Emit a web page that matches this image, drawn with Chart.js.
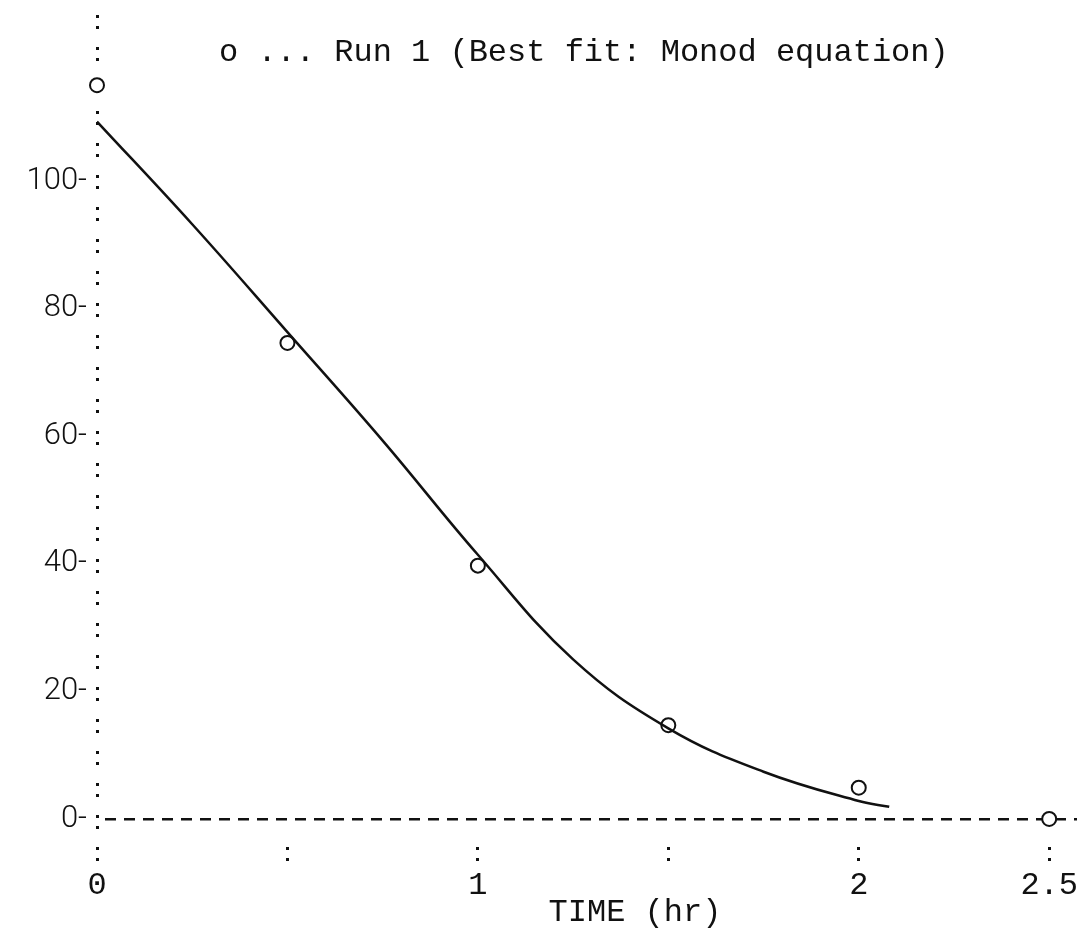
<!DOCTYPE html>
<html>
<head>
<meta charset="utf-8">
<script src="https://cdn.jsdelivr.net/npm/chart.js@4.4.1/dist/chart.umd.min.js"></script>
<style>
  html, body { margin: 0; padding: 0; background: #fff; }
</style>
</head>
<body>
<canvas id="runchart" width="1086" height="932"></canvas>
<script>
// measured substrate, run 1
const time_obs = [0, 0.5, 1, 1.5, 2, 2.5];
const conc_obs = [115, 74.6, 39.7, 14.7, 4.9, 0];

// Monod fit curve
const time_fit = [0, 0.25, 0.5, 0.75, 1, 1.25, 1.5, 1.75, 2, 2.08];
const conc_fit = [109.3, 93.2, 76.3, 59.3, 41.4, 25.0, 14.2, 7.4, 2.8, 1.9];

const x_ticks = [0, 0.5, 1, 1.5, 2, 2.5];
const x_labels = ['0', '', '1', '', '2', '2.5'];
const y_ticks = [0, 20, 40, 60, 80, 100];

const title_text = 'o ... Run 1 (Best fit: Monod equation)';
const x_title = '     TIME (hr)';

const ink = '#111';
const mono = '"Liberation Mono", "DejaVu Sans Mono", monospace';
const sans = 'Roboto, "Liberation Sans", sans-serif';

function toPoints(xs, ys){
    return xs.map((x, i) => ({x: x, y: ys[i]}));
}

// run label sits inside the plot, above the curve
const runLabel = {
    id: 'runLabel',
    afterDraw(chart){
        const {ctx, chartArea} = chart;
        ctx.save();
        ctx.font = '32px ' + mono;
        ctx.fillStyle = ink;
        ctx.textBaseline = 'middle';
        ctx.textAlign = 'left';
        ctx.fillText(title_text, chartArea.left + 122, 53);
        ctx.restore();
    }
};

const chart = new Chart(document.getElementById('runchart').getContext('2d'), {
    type: 'scatter',
    data: {
        datasets: [{
            label: 'fit',
            data: toPoints(time_fit, conc_fit),
            showLine: true,
            borderColor: ink,
            borderWidth: 2.5,
            pointRadius: 0,
            tension: 0.4,
            fill: false
        }, {
            label: 'Run 1',
            data: toPoints(time_obs, conc_obs),
            showLine: false,
            clip: false,
            pointStyle: 'circle',
            pointRadius: 7,
            pointBorderWidth: 2,
            pointBorderColor: ink,
            pointBackgroundColor: '#fff'
        }]
    },
    options: {
        responsive: false,
        animation: false,
        layout: {padding: {top: 15, right: 5, left: 0, bottom: 0}},
        plugins: {
            legend: {display: false},
            tooltip: {enabled: false},
            title: {display: false}
        },
        scales: {
            x: {
                type: 'linear',
                min: 0,
                max: 2.573,
                afterBuildTicks: s => { s.ticks = x_ticks.map(v => ({value: v})); },
                afterFit: s => {
                    s.height = 85;
                    s.paddingLeft = 0;
                    s.paddingRight = 0;
                },
                ticks: {
                    autoSkip: false,
                    maxRotation: 0,
                    minRotation: 0,
                    padding: 2,
                    color: ink,
                    font: {family: mono, size: 32},
                    callback: (v, i) => x_labels[i]
                },
                grid: {
                    drawOnChartArea: true,
                    color: c => (c.tick && c.tick.value === 0) ? ink : 'rgba(0,0,0,0)',
                    lineWidth: 3,
                    drawTicks: true,
                    tickLength: 17,
                    tickColor: ink,
                    tickWidth: 3,
                    tickBorderDash: [3, 8, 3, 40]
                },
                border: {display: false, dash: [3, 8, 3, 18]},
                title: {
                    display: true,
                    text: x_title,
                    color: ink,
                    font: {family: mono, size: 32},
                    padding: {top: 0, bottom: 0}
                }
            },
            y: {
                type: 'linear',
                min: -4.4,
                max: 126,
                afterBuildTicks: s => { s.ticks = y_ticks.map(v => ({value: v})); },
                afterFit: s => {
                    s.width = 97;
                    s.paddingTop = 0;
                    s.paddingBottom = 0;
                },
                ticks: {
                    padding: 10,
                    color: ink,
                    font: {family: sans, size: 31, weight: 300},
                    callback: v => v + '-'
                },
                grid: {
                    drawTicks: false,
                    color: c => (c.tick && c.tick.value === 0) ? ink : 'rgba(0,0,0,0)',
                    lineWidth: 2.5
                },
                border: {display: false, dash: [11, 8], dashOffset: 11}
            }
        }
    },
    plugins: [runLabel]
});
</script>
</body>
</html>
